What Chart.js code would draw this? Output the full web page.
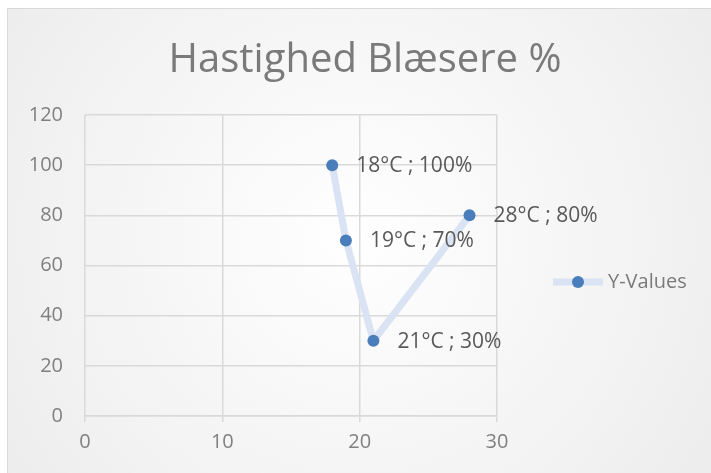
<!DOCTYPE html>
<html>
<head>
<meta charset="utf-8">
<script src="https://cdn.jsdelivr.net/npm/chart.js@4.4.1/dist/chart.umd.min.js"></script>
<style>
  html, body { margin: 0; padding: 0; background: #fff; }
  #wrap { width: 711px; height: 473px; }
</style>
</head>
<body>
<div id="wrap"><canvas id="chart" width="711" height="473"></canvas></div>
<script>
// chart data
const chartTitle = 'Hastighed Blæsere %';
const seriesName = 'Y-Values';
const xValues = [18, 19, 21, 28];
const yValues = [100, 70, 30, 80];
const pointLabels = ['18°C ; 100%', '19°C ; 70%', '21°C ; 30%', '28°C ; 80%'];
const xRange = [0, 30, 10];   // min, max, step
const yRange = [0, 120, 20];

const FONT = "'Open Sans', sans-serif";
const lineColor = '#dae3f3';
const markerColor = '#4a7ebb';

// background, border, title and legend drawn around the plot
const frame = {
  id: 'frame',
  beforeDraw(chart) {
    const { ctx, width, height } = chart;
    ctx.save();
    const g = ctx.createRadialGradient(width / 2, height / 2, 0, width / 2, height / 2, width * 0.62);
    g.addColorStop(0, '#ffffff');
    g.addColorStop(1, '#ececec');
    ctx.fillStyle = g;
    ctx.fillRect(0, 0, width, height);
    ctx.fillStyle = '#ffffff';
    ctx.fillRect(0, 0, width, 8);
    ctx.fillRect(0, 0, 7, height);
    ctx.strokeStyle = '#d9d9d9';
    ctx.lineWidth = 1;
    ctx.beginPath();
    ctx.moveTo(7.5, height + 2);
    ctx.lineTo(7.5, 8.5);
    ctx.lineTo(width + 2, 8.5);
    ctx.stroke();

    ctx.fillStyle = '#7a7a7a';
    ctx.font = '40px ' + FONT;
    ctx.textAlign = 'center';
    ctx.textBaseline = 'alphabetic';
    ctx.fillText(chartTitle, 365, 72);
    ctx.restore();
  },
  afterDraw(chart) {
    const { ctx } = chart;
    ctx.save();
    // legend entry
    const ly = 282;
    ctx.strokeStyle = lineColor;
    ctx.lineWidth = 7;
    ctx.beginPath();
    ctx.moveTo(553, ly);
    ctx.lineTo(603, ly);
    ctx.stroke();
    ctx.fillStyle = markerColor;
    ctx.beginPath();
    ctx.arc(578, ly, 6, 0, Math.PI * 2);
    ctx.fill();
    ctx.fillStyle = '#7a7a7a';
    ctx.font = '20px ' + FONT;
    ctx.textAlign = 'left';
    ctx.textBaseline = 'middle';
    ctx.fillText(seriesName, 608, ly);

    // point labels
    const meta = chart.getDatasetMeta(0);
    ctx.fillStyle = '#595959';
    ctx.font = '21px ' + FONT;
    meta.data.forEach((pt, i) => {
      ctx.fillText(pointLabels[i], pt.x + 24, pt.y + 1);
    });
    ctx.restore();
  }
};

new Chart(document.getElementById('chart'), {
  type: 'scatter',
  data: {
    datasets: [{
      label: seriesName,
      data: xValues.map((x, i) => ({ x: x, y: yValues[i] })),
      showLine: true,
      borderColor: lineColor,
      borderWidth: 7,
      borderJoinStyle: 'round',
      borderCapStyle: 'round',
      pointBackgroundColor: markerColor,
      pointBorderColor: markerColor,
      pointRadius: 6,
      pointBorderWidth: 0
    }]
  },
  options: {
    responsive: false,
    animation: false,
    layout: { padding: { top: 115, right: 214, left: 0, bottom: 0 } },
    plugins: {
      legend: { display: false },
      title: { display: false },
      tooltip: { enabled: false }
    },
    scales: {
      x: {
        type: 'linear',
        min: xRange[0], max: xRange[1],
        ticks: { stepSize: xRange[2], color: '#808080', font: { family: FONT, size: 20 }, padding: 8 },
        grid: { color: '#d9d9d9', lineWidth: 1.5, tickLength: 6, drawTicks: true },
        border: { display: true, color: '#d9d9d9', width: 1.5 },
        afterFit(scale) { scale.height = 57; }
      },
      y: {
        type: 'linear',
        min: yRange[0], max: yRange[1],
        ticks: { stepSize: yRange[2], color: '#808080', font: { family: FONT, size: 20 }, padding: 22 },
        grid: { color: '#d9d9d9', lineWidth: 1.5, drawTicks: false },
        border: { display: false },
        afterFit(scale) { scale.width = 85; }
      }
    }
  },
  plugins: [frame]
});
</script>
</body>
</html>
